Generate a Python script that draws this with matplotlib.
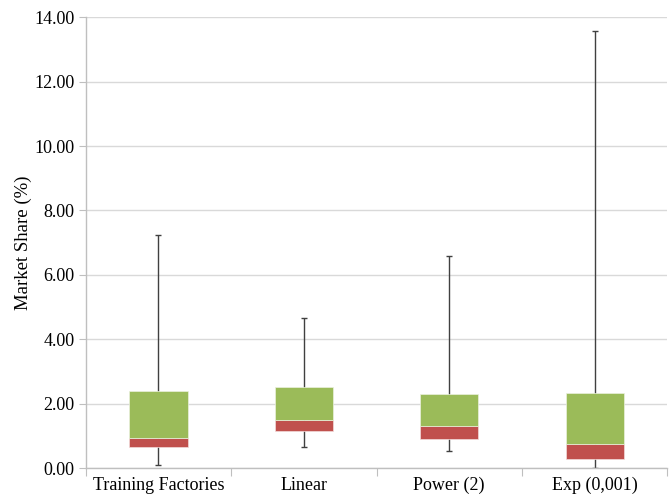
import matplotlib
matplotlib.use('Agg')
import matplotlib.pyplot as plt
import numpy as np

# data
categories = ['Training Factories', 'Linear', 'Power (2)', 'Exp (0,001)']
mins = [0.10, 0.66, 0.55, 0.01]
q1 = [0.65, 1.17, 0.90, 0.28]
medians = [0.93, 1.50, 1.31, 0.75]
q3 = [2.40, 2.54, 2.31, 2.33]
maxs = [7.24, 4.66, 6.58, 13.56]

plt.rcParams['font.family'] = ['Liberation Serif', 'DejaVu Serif']

fig = plt.figure(figsize=(6.7, 5.01), dpi=100)
ax = fig.add_axes([0.128, 0.065, 0.868, 0.901])

x = np.arange(len(categories))
width = 0.4

# whiskers (behind the boxes)
ax.vlines(x, mins, maxs, color='#404040', linewidth=1.0, zorder=2)
ax.plot(x, mins, linestyle='none', marker='_', markersize=4, color='#404040', zorder=2)
ax.plot(x, maxs, linestyle='none', marker='_', markersize=4, color='#404040', zorder=2)

# stacked box: lower part red (Q1 -> median), upper part green (median -> Q3)
lower = np.array(medians) - np.array(q1)
upper = np.array(q3) - np.array(medians)
ax.bar(x, lower, width, bottom=q1, color='#C0504D', edgecolor='#f2dcdb', linewidth=0.5, zorder=3)
ax.bar(x, upper, width, bottom=medians, color='#9BBB59', edgecolor='#ebf1de', linewidth=0.5, zorder=3)

# y axis
ax.set_ylim(0, 14)
ax.set_yticks(np.arange(0, 14.1, 2))
ax.set_yticklabels(['%.2f' % v for v in np.arange(0, 14.1, 2)], fontsize=13)
ax.set_ylabel('Market Share (%)', fontsize=13.5, labelpad=2)
ax.yaxis.grid(True, color='#d9d9d9', linewidth=1.0, zorder=0)
ax.set_axisbelow(True)

# x axis: ticks at category boundaries, labels centered
ax.set_xlim(-0.5, len(categories) - 0.5)
ax.set_xticks(np.arange(-0.5, len(categories), 1.0))
ax.set_xticklabels([])
ax.set_xticks(x, minor=True)
ax.set_xticklabels(categories, minor=True, fontsize=13)
ax.tick_params(axis='x', which='minor', length=0, pad=6)
ax.tick_params(axis='x', which='major', length=6, color='#bfbfbf', direction='out')
ax.tick_params(axis='y', length=5, color='#bfbfbf', direction='out', pad=3)

for side in ['top', 'right']:
    ax.spines[side].set_visible(False)
for side in ['left', 'bottom']:
    ax.spines[side].set_color('#bfbfbf')
    ax.spines[side].set_linewidth(1.0)

fig.savefig('out.png', dpi=100)
